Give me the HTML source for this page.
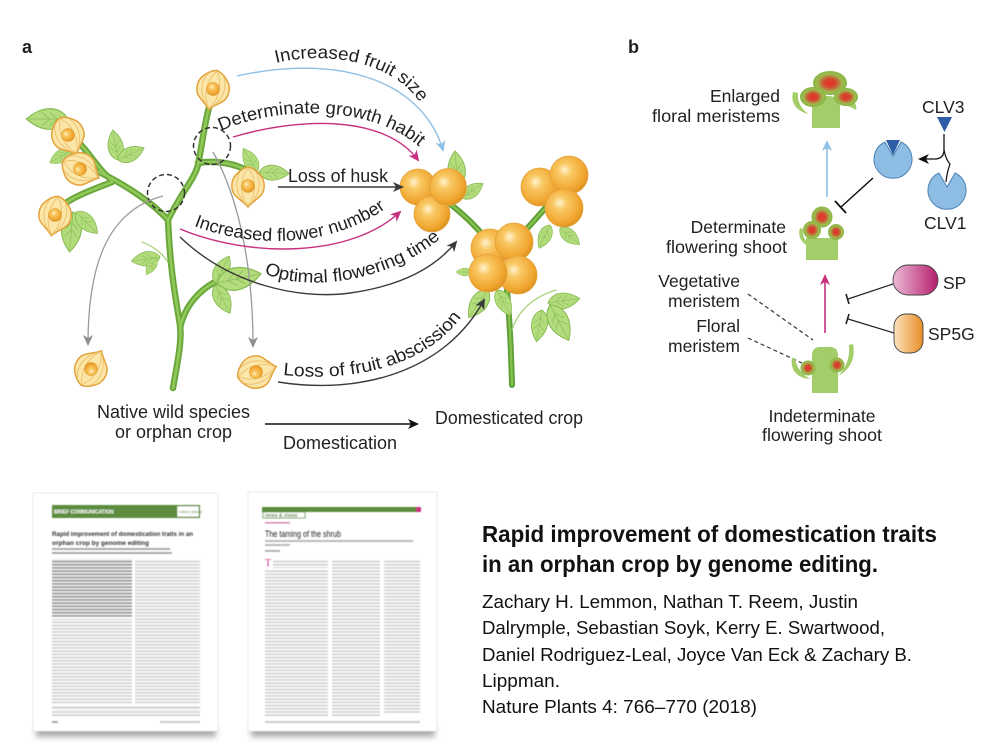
<!DOCTYPE html>
<html><head><meta charset="utf-8"><style>
html,body{margin:0;padding:0;background:#fff;}
svg{display:block;}
.t{font-family:"Liberation Sans",Arial,sans-serif;fill:#231f20;}
</style></head><body>
<svg width="1000" height="750" viewBox="0 0 1000 750" xmlns="http://www.w3.org/2000/svg">
<defs>
  <radialGradient id="ball" cx="0.42" cy="0.4" r="0.62" fx="0.38" fy="0.36">
    <stop offset="0" stop-color="#fff3cf"/>
    <stop offset="0.3" stop-color="#f9c863"/>
    <stop offset="0.8" stop-color="#f0a630"/>
    <stop offset="1" stop-color="#dc921e"/>
  </radialGradient>
  <radialGradient id="mer" cx="0.5" cy="0.5" r="0.5">
    <stop offset="0" stop-color="#e3312a"/>
    <stop offset="0.35" stop-color="#d4472e"/>
    <stop offset="0.75" stop-color="#9dbb4e"/>
    <stop offset="1" stop-color="#86b445"/>
  </radialGradient>
  <linearGradient id="spg" x1="0" x2="1" y1="0" y2="0">
    <stop offset="0" stop-color="#ecbad6"/>
    <stop offset="1" stop-color="#b51f6c"/>
  </linearGradient>
  <linearGradient id="sp5g" x1="0" x2="1" y1="0" y2="0">
    <stop offset="0" stop-color="#fbe3bd"/>
    <stop offset="1" stop-color="#e88d27"/>
  </linearGradient>
  <pattern id="txt" width="6" height="3.2" patternUnits="userSpaceOnUse">
    <rect x="0" y="0.8" width="6" height="1.5" fill="#cbcbcb"/>
  </pattern>
  <pattern id="txtb" width="6" height="3.2" patternUnits="userSpaceOnUse">
    <rect x="0" y="0.6" width="6" height="1.8" fill="#999"/>
  </pattern>
  <filter id="blur" x="-20%" y="-50%" width="140%" height="200%"><feGaussianBlur stdDeviation="3"/></filter>
  <filter id="soft" x="-5%" y="-5%" width="110%" height="110%"><feGaussianBlur stdDeviation="0.5"/></filter>
  <marker id="mBlue" markerWidth="12" markerHeight="10" refX="9" refY="5" orient="auto" markerUnits="userSpaceOnUse"><path d="M0,0 L11,5 L0,10 L3,5Z" fill="#8ebfe4"/></marker>
  <marker id="mMag" markerWidth="12" markerHeight="10" refX="9" refY="5" orient="auto" markerUnits="userSpaceOnUse"><path d="M0,0 L11,5 L0,10 L3,5Z" fill="#c8307f"/></marker>
  <marker id="mDark" markerWidth="12" markerHeight="10" refX="9" refY="5" orient="auto" markerUnits="userSpaceOnUse"><path d="M0,0 L11,5 L0,10 L3,5Z" fill="#3a3a3a"/></marker>
  <marker id="mGray" markerWidth="12" markerHeight="10" refX="9" refY="5" orient="auto" markerUnits="userSpaceOnUse"><path d="M0,0 L11,5 L0,10 L3,5Z" fill="#8e8e8e"/></marker>
  <marker id="mBlk" markerWidth="12" markerHeight="10" refX="9" refY="5" orient="auto" markerUnits="userSpaceOnUse"><path d="M0,0 L11,5 L0,10 L3,5Z" fill="#111"/></marker>
  <g id="lf">
    <path d="M0,0 C5,-9 18,-12 32,0 C18,12 5,9 0,0Z" fill="#b3dc7c" stroke="#86ba52" stroke-width="0.9"/>
    <path d="M0,0 L30,0 M8,0 L14,-5 M14,0 L20,-5 M8,0 L14,5 M14,0 L20,5" stroke="#8abd56" stroke-width="0.6" fill="none"/>
  </g>
  <g id="husk">
    <path d="M0,-19 C5,-18 9,-15 13,-10 C17,-5 17,3 14,8 C10,13 4,16 0,21 C-4,16 -10,13 -14,8 C-17,3 -17,-5 -13,-10 C-9,-15 -5,-18 0,-19Z" fill="#fbe6a8" stroke="#e3a23a" stroke-width="1.5"/>
    <path d="M0,-18 C-8,-8 -9,8 0,20 M0,-18 C8,-8 9,8 0,20 M-8,-14 C-15,-2 -10,12 0,20 M8,-14 C15,-2 10,12 0,20" fill="none" stroke="#eabb66" stroke-width="0.8"/>
    <circle r="6.5" fill="url(#ball)" stroke="#e0a030" stroke-width="0.6"/>
  </g>
  <path id="tp1" d="M276,63 C 330,50 400,62 426,112"/>
  <path id="tp2" d="M221,131 C 270,108 372,100 425,152"/>
  <path id="tp3" d="M194,226 C 250,247 330,251 392,204"/>
  <path id="tp4" d="M264,273 C 300,291 385,286 442,237"/>
  <path id="tp5" d="M283,375 C 350,382 425,368 462,316"/>
</defs>

<rect width="1000" height="750" fill="#fff"/>

<!-- ================= PANEL A ================= -->
<text class="t" x="22" y="53" font-size="18" font-weight="bold">a</text>

<!-- wild plant stems -->
<g fill="none" stroke-linecap="round">
  <g stroke="#6aa83c" stroke-width="6.5">
    <path d="M173,388 C 178,360 182,340 180,325 C 176,300 170,270 168,220"/>
    <path d="M180,328 C 185,305 200,290 215,282"/>
    <path d="M168,220 C 150,200 120,182 95,170"/>
    <path d="M112,180 C 98,170 88,150 76,140"/>
    <path d="M112,182 C 92,190 72,197 62,206"/>
    <path d="M168,220 C 180,195 195,178 198,165 C 202,145 205,120 210,104"/>
    <path d="M198,163 C 215,160 235,163 250,172"/>
  </g>
  <g stroke="#92c95a" stroke-width="2.5">
    <path d="M173,388 C 178,360 182,340 180,325 C 176,300 170,270 168,220"/>
    <path d="M180,328 C 185,305 200,290 215,282"/>
    <path d="M168,220 C 150,200 120,182 95,170"/>
    <path d="M112,180 C 98,170 88,150 76,140"/>
    <path d="M112,182 C 92,190 72,197 62,206"/>
    <path d="M168,220 C 180,195 195,178 198,165 C 202,145 205,120 210,104"/>
    <path d="M198,163 C 215,160 235,163 250,172"/>
  </g>
  <path d="M168,262 C 160,250 150,245 142,242" stroke="#9fd06a" stroke-width="1.2"/>
</g>

<!-- wild leaves -->
<use href="#lf" transform="translate(68,119) rotate(180) scale(1.3)"/>
<use href="#lf" transform="translate(72,150) rotate(150) scale(0.8)"/>
<use href="#lf" transform="translate(118,160) rotate(-100) scale(0.95)"/>
<use href="#lf" transform="translate(118,160) rotate(-25) scale(0.9)"/>
<use href="#lf" transform="translate(73,212) rotate(95) scale(1.25)"/>
<use href="#lf" transform="translate(76,212) rotate(45) scale(0.95)"/>
<use href="#lf" transform="translate(257,172) rotate(-120) scale(0.85)"/>
<use href="#lf" transform="translate(259,172) rotate(3) scale(0.95)"/>
<use href="#lf" transform="translate(160,257) rotate(172) scale(0.9)"/>
<use href="#lf" transform="translate(156,258) rotate(120) scale(0.6)"/>
<use href="#lf" transform="translate(215,283) rotate(-62) scale(0.95)"/>
<use href="#lf" transform="translate(217,283) rotate(-12) scale(1.4)"/>
<use href="#lf" transform="translate(215,285) rotate(62) scale(1.0)"/>

<!-- husks -->
<use href="#husk" transform="translate(213,89) rotate(12)"/>
<use href="#husk" transform="translate(68,135) rotate(-25)"/>
<use href="#husk" transform="translate(80,169) rotate(-65)"/>
<use href="#husk" transform="translate(55,215) rotate(10)"/>
<use href="#husk" transform="translate(248,186)"/>
<use href="#husk" transform="translate(91,369) rotate(-150)"/>
<use href="#husk" transform="translate(256,372) rotate(-105)"/>

<!-- dashed circles -->
<circle cx="212" cy="146" r="18.5" fill="none" stroke="#333" stroke-width="1.5" stroke-dasharray="5,3"/>
<circle cx="166" cy="193" r="18.5" fill="none" stroke="#333" stroke-width="1.5" stroke-dasharray="5,3"/>

<!-- gray thin arrows -->
<path d="M163,196 C 110,210 88,260 88,344" fill="none" stroke="#9a9a9a" stroke-width="1.3" marker-end="url(#mGray)"/>
<path d="M213,152 C 240,200 253,270 253,346" fill="none" stroke="#9a9a9a" stroke-width="1.3" marker-end="url(#mGray)"/>

<!-- domesticated crop -->
<g fill="none" stroke-linecap="round">
  <g stroke="#5e9f36" stroke-width="6">
    <path d="M512,385 C 511,350 510,320 505,268"/>
    <path d="M495,250 C 480,230 465,215 445,200"/>
    <path d="M513,245 C 525,230 540,215 552,200"/>
  </g>
  <g stroke="#86c24f" stroke-width="2.2">
    <path d="M512,385 C 511,350 510,320 505,268"/>
    <path d="M495,250 C 480,230 465,215 445,200"/>
    <path d="M513,245 C 525,230 540,215 552,200"/>
  </g>
  <path d="M512,330 C 520,305 540,295 556,290" stroke="#a6d47a" stroke-width="1.3"/>
</g>
<use href="#lf" transform="translate(458,186) rotate(-95) scale(1.1)"/>
<use href="#lf" transform="translate(462,198) rotate(-35) scale(0.8)"/>
<use href="#lf" transform="translate(488,290) rotate(125) scale(1.05)"/>
<use href="#lf" transform="translate(497,290) rotate(62) scale(0.9)"/>
<use href="#lf" transform="translate(550,225) rotate(115) scale(0.8)"/>
<use href="#lf" transform="translate(560,228) rotate(40) scale(0.8)"/>
<use href="#lf" transform="translate(548,303) rotate(-8) scale(1.0)"/>
<use href="#lf" transform="translate(550,305) rotate(62) scale(1.25)"/>
<use href="#lf" transform="translate(542,310) rotate(100) scale(1.0)"/>
<use href="#lf" transform="translate(472,272) rotate(180) scale(0.5)"/>

<!-- fruits -->
<g stroke="#e3a33c" stroke-width="0.8" fill="url(#ball)">
  <circle cx="418" cy="187" r="18"/>
  <circle cx="432" cy="214" r="18"/>
  <circle cx="448" cy="187" r="18.5"/>
  <circle cx="540" cy="187" r="19"/>
  <circle cx="569" cy="175" r="19"/>
  <circle cx="564" cy="208" r="19"/>
  <circle cx="490" cy="248" r="19"/>
  <circle cx="514" cy="242" r="19"/>
  <circle cx="518" cy="275" r="19"/>
  <circle cx="488" cy="273" r="19"/>
</g>

<!-- trait arrows -->
<g fill="none" stroke-width="1.4">
  <path d="M237,76 C 330,55 420,75 443,150" stroke="#8ebfe4" marker-end="url(#mBlue)"/>
  <path d="M233,137 C 300,117 385,115 418,160" stroke="#c8307f" marker-end="url(#mMag)"/>
  <path d="M278,187 L402,187" stroke="#3a3a3a" marker-end="url(#mDark)"/>
  <path d="M180,229 C 250,258 350,258 400,212" stroke="#c8307f" marker-end="url(#mMag)"/>
  <path d="M180,237 C 230,285 300,300 350,293 C 400,286 435,268 456,242" stroke="#3a3a3a" marker-end="url(#mDark)"/>
  <path d="M278,382 C 360,395 445,372 484,300" stroke="#3a3a3a" marker-end="url(#mDark)"/>
  <path d="M265,424 L417,424" stroke="#111" stroke-width="1.6" marker-end="url(#mBlk)"/>
</g>

<!-- trait labels -->
<g class="t" font-size="18">
  <text><textPath href="#tp1" textLength="158" lengthAdjust="spacingAndGlyphs">Increased fruit size</textPath></text>
  <text><textPath href="#tp2" textLength="208" lengthAdjust="spacingAndGlyphs">Determinate growth habit</textPath></text>
  <text x="288" y="182" textLength="100" lengthAdjust="spacingAndGlyphs">Loss of husk</text>
  <text><textPath href="#tp3" textLength="200" lengthAdjust="spacingAndGlyphs">Increased flower number</textPath></text>
  <text><textPath href="#tp4" textLength="188" lengthAdjust="spacingAndGlyphs">Optimal flowering time</textPath></text>
  <text><textPath href="#tp5" textLength="196" lengthAdjust="spacingAndGlyphs">Loss of fruit abscission</textPath></text>
  <text x="97" y="418" textLength="153" lengthAdjust="spacingAndGlyphs">Native wild species</text>
  <text x="115" y="438" textLength="117" lengthAdjust="spacingAndGlyphs">or orphan crop</text>
  <text x="435" y="424" textLength="148" lengthAdjust="spacingAndGlyphs">Domesticated crop</text>
  <text x="283" y="449" textLength="114" lengthAdjust="spacingAndGlyphs">Domestication</text>
</g>

<!-- ================= PANEL B ================= -->
<text class="t" x="628" y="53" font-size="18" font-weight="bold">b</text>

<g class="t" font-size="17.5">
  <text x="780" y="102" text-anchor="end">Enlarged</text>
  <text x="780" y="122" text-anchor="end" textLength="128" lengthAdjust="spacingAndGlyphs">floral meristems</text>
  <text x="786" y="233" text-anchor="end">Determinate</text>
  <text x="787" y="253" text-anchor="end" textLength="121" lengthAdjust="spacingAndGlyphs">flowering shoot</text>
  <text x="740" y="287" text-anchor="end">Vegetative</text>
  <text x="740" y="307" text-anchor="end">meristem</text>
  <text x="740" y="332" text-anchor="end">Floral</text>
  <text x="740" y="352" text-anchor="end">meristem</text>
  <text x="822" y="422" text-anchor="middle">Indeterminate</text>
  <text x="822" y="441" text-anchor="middle" textLength="120" lengthAdjust="spacingAndGlyphs">flowering shoot</text>
  <text x="922" y="113">CLV3</text>
  <text x="924" y="229">CLV1</text>
  <text x="943" y="289">SP</text>
  <text x="928" y="340">SP5G</text>
</g>

<!-- enlarged meristem icon -->
<g>
  <path d="M812,128 L812,103 C812,99 816,96 826,96 C836,96 840,99 840,103 L840,128Z" fill="#a3cd68"/>
  <path d="M793,92 C 790,104 798,112 809,114 C 802,110 797,102 798,93Z" fill="#a3cd68"/>
  <path d="M853,101 C 856,104 857,107 856,110 C 853,108 849,106 846,106Z" fill="#a3cd68"/>
  <ellipse cx="830" cy="83" rx="17" ry="12" fill="url(#mer)"/>
  <ellipse cx="813" cy="97" rx="13" ry="10" fill="url(#mer)"/>
  <ellipse cx="846" cy="97" rx="12" ry="9" fill="url(#mer)"/>
</g>

<!-- blue arrow -->
<path d="M827,197 L827,142" stroke="#8ebfe4" stroke-width="1.6" fill="none" marker-end="url(#mBlue)"/>

<!-- CLV3/CLV1 -->
<path d="M937,117 L952,117 L944.5,132Z" fill="#2d5da6"/>
<path d="M885,142 A19,19 0 1,0 901,142 L893,156Z" fill="#8dbde3" stroke="#4d82b5" stroke-width="1"/>
<path d="M886,140 L900,140 L893,155Z" fill="#2d5da6"/>
<path d="M939,173 A19,19 0 1,0 955,173 L947,187Z" fill="#8dbde3" stroke="#4d82b5" stroke-width="1"/>
<path d="M944,134 L944,150 Q944,158 936,159 L920,159" fill="none" stroke="#111" stroke-width="1.3" marker-end="url(#mBlk)"/>
<path d="M944,150 Q946,160 950,164 Q947,172 946,182" fill="none" stroke="#111" stroke-width="1.2"/>

<!-- inhibition from receptor -->
<path d="M873,178 L841,207" stroke="#111" stroke-width="1.5" fill="none"/>
<path d="M835,201 L846,213" stroke="#111" stroke-width="1.8"/>

<!-- determinate icon -->
<g>
  <path d="M806,260 L806,238 L838,238 L838,260Z" fill="#a3cd68"/>
  <path d="M800,228 C 797,238 803,245 812,247 C 806,243 802,236 803,229Z" fill="#a3cd68"/>
  <circle cx="822" cy="217" r="10.5" fill="url(#mer)"/>
  <circle cx="812" cy="230" r="9" fill="url(#mer)"/>
  <circle cx="836" cy="232" r="8" fill="url(#mer)"/>
</g>

<!-- magenta arrow -->
<path d="M825,333 L825,276" stroke="#c8307f" stroke-width="1.6" fill="none" marker-end="url(#mMag)"/>

<!-- SP / SP5G -->
<rect x="893" y="265" width="45" height="30" rx="15" fill="url(#spg)" stroke="#444" stroke-width="0.9"/>
<rect x="894" y="314" width="29" height="39" rx="12" fill="url(#sp5g)" stroke="#444" stroke-width="0.9"/>
<path d="M893,284 L848,299" stroke="#222" stroke-width="1.2"/>
<path d="M846,294 L849,304" stroke="#222" stroke-width="1.6"/>
<path d="M894,333 L848,319" stroke="#222" stroke-width="1.2"/>
<path d="M849,314 L846,324" stroke="#222" stroke-width="1.6"/>

<!-- dashed label lines -->
<path d="M748,294 L813,340" stroke="#333" stroke-width="1.2" stroke-dasharray="4,3"/>
<path d="M748,338 L802,363" stroke="#333" stroke-width="1.2" stroke-dasharray="4,3"/>

<!-- indeterminate icon -->
<g>
  <path d="M812,393 L812,356 Q812,347 820,347 L830,347 Q838,347 838,356 L838,393Z" fill="#a3cd68"/>
  <path d="M792,358 C 790,370 797,378 810,379 C 802,374 796,367 795,358Z" fill="#a3cd68"/>
  <path d="M853,344 C 856,358 850,370 838,376 C 846,368 850,358 849,345Z" fill="#a3cd68"/>
  <circle cx="808" cy="368" r="7.5" fill="url(#mer)"/>
  <circle cx="837" cy="365" r="7.5" fill="url(#mer)"/>
</g>

<!-- ================= PAPERS ================= -->
<rect x="36" y="725" width="180" height="12" fill="#999" filter="url(#blur)" opacity="0.8"/>
<rect x="251" y="725" width="184" height="12" fill="#999" filter="url(#blur)" opacity="0.8"/>

<!-- paper 1 -->
<rect x="33" y="493" width="185" height="238" fill="#fff" stroke="#e6e6e6" stroke-width="0.8"/>
<g filter="url(#soft)">
<rect x="52" y="505" width="148" height="13" fill="#5b8c3c"/>
<text x="54" y="513.5" font-family="Liberation Sans,sans-serif" font-size="5" font-weight="bold" fill="#fff">BRIEF COMMUNICATION</text>
<rect x="177" y="506" width="22" height="11" fill="#fff" stroke="#5b8c3c" stroke-width="0.6"/>
<text x="179" y="513" font-family="Liberation Sans,sans-serif" font-size="4" fill="#5b8c3c">nature plants</text>
<text x="52" y="536" font-family="Liberation Sans,sans-serif" font-size="6.2" font-weight="bold" fill="#333" textLength="141" lengthAdjust="spacingAndGlyphs">Rapid improvement of domestication traits in an</text>
<text x="52" y="545" font-family="Liberation Sans,sans-serif" font-size="6.2" font-weight="bold" fill="#333" textLength="97" lengthAdjust="spacingAndGlyphs">orphan crop by genome editing</text>
<rect x="52" y="548" width="118" height="2" fill="#aaa"/>
<rect x="52" y="552" width="120" height="2" fill="#aaa"/>
<rect x="52" y="559" width="80" height="58" fill="url(#txtb)"/>
<rect x="52" y="619" width="80" height="86" fill="url(#txt)"/>
<rect x="135" y="559" width="65" height="146" fill="url(#txt)"/>
<rect x="52" y="707" width="148" height="0.7" fill="#888"/>
<rect x="52" y="709" width="148" height="7" fill="url(#txt)"/>
<rect x="52" y="721" width="6" height="2" fill="#aaa"/>
<rect x="160" y="721" width="40" height="2" fill="#ccc"/>
</g>

<!-- paper 2 -->
<rect x="248" y="492" width="189" height="239" fill="#fff" stroke="#e6e6e6" stroke-width="0.8"/>
<g filter="url(#soft)">
<rect x="262" y="507" width="155" height="5" fill="#5b8c3c"/>
<rect x="416" y="507" width="5" height="5" fill="#c8307f"/>
<rect x="263" y="512" width="42" height="6" fill="#fff" stroke="#5b8c3c" stroke-width="0.8"/>
<text x="265" y="517" font-family="Liberation Sans,sans-serif" font-size="5" font-weight="bold" fill="#5b8c3c">news &amp; views</text>
<rect x="265" y="522" width="25" height="1.6" fill="#d58ab0"/>
<text x="265" y="537" font-family="Liberation Sans,sans-serif" font-size="9" fill="#222" textLength="76" lengthAdjust="spacingAndGlyphs">The taming of the shrub</text>
<rect x="265" y="540" width="148" height="2" fill="#bbb"/>
<rect x="265" y="544" width="25" height="2" fill="#bbb"/>
<rect x="265" y="550" width="15" height="1.8" fill="#aaa"/>
<text x="265" y="566" font-family="Liberation Serif,serif" font-size="10" fill="#c8307f">T</text>
<rect x="273" y="559" width="55" height="9" fill="url(#txt)"/>
<rect x="265" y="569" width="63" height="147" fill="url(#txt)"/>
<rect x="332" y="559" width="48" height="157" fill="url(#txt)"/>
<rect x="384" y="559" width="36" height="154" fill="url(#txt)"/>
<rect x="265" y="721" width="155" height="2" fill="#ccc"/>
</g>

<!-- ================= CITATION ================= -->
<g font-family="Liberation Sans,Arial,sans-serif" fill="#111">
  <text x="482" y="542" font-size="23" font-weight="bold" textLength="455" lengthAdjust="spacingAndGlyphs">Rapid improvement of domestication traits</text>
  <text x="482" y="572" font-size="23" font-weight="bold" textLength="396" lengthAdjust="spacingAndGlyphs">in an orphan crop by genome editing.</text>
  <text x="482" y="608" font-size="18.5" textLength="376" lengthAdjust="spacingAndGlyphs">Zachary H. Lemmon, Nathan T. Reem, Justin</text>
  <text x="482" y="634" font-size="18.5" textLength="403" lengthAdjust="spacingAndGlyphs">Dalrymple, Sebastian Soyk, Kerry E. Swartwood,</text>
  <text x="482" y="661" font-size="18.5" textLength="430" lengthAdjust="spacingAndGlyphs">Daniel Rodriguez-Leal, Joyce Van Eck &amp; Zachary B.</text>
  <text x="482" y="687" font-size="18.5" textLength="78" lengthAdjust="spacingAndGlyphs">Lippman.</text>
  <text x="482" y="713" font-size="18.5" textLength="275" lengthAdjust="spacingAndGlyphs">Nature Plants 4: 766–770 (2018)</text>
</g>
</svg>
</body></html>
